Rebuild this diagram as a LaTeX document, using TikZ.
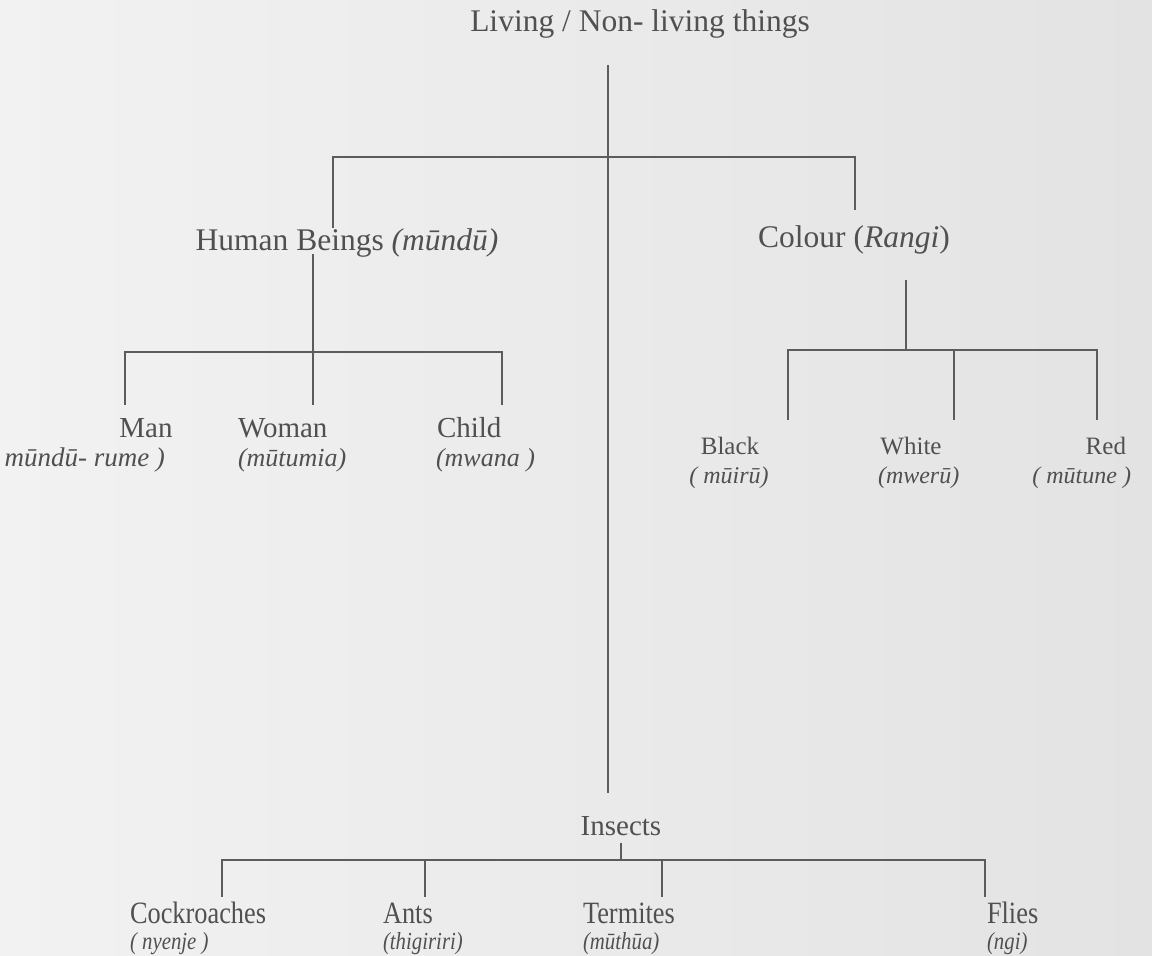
\documentclass[tikz,border=0pt]{standalone}
\usepackage{fontspec}
\setmainfont{Liberation Serif}
\newfontfamily\narrowserif[FakeStretch=0.85]{Liberation Serif}
\begin{document}
\begin{tikzpicture}[x=1pt,y=-1pt,
  every node/.style={inner sep=0pt, outer sep=0pt, text=ink, anchor=base},
  big/.style={font=\fontsize{31.5}{36}\selectfont},
  mid/.style={font=\fontsize{29}{34}\selectfont},
  small/.style={font=\fontsize{25}{30}\selectfont},
  native/.style={font=\fontsize{26}{30}\selectfont\itshape},
  nativesmall/.style={font=\fontsize{24}{28}\selectfont\itshape},
  insect/.style={font=\fontsize{31}{34}\narrowserif, anchor=base west},
  insectnative/.style={font=\fontsize{24.5}{28}\narrowserif\itshape, anchor=base west},
  branch/.style={draw=wire, line width=1.7pt}]
\definecolor{ink}{HTML}{505050}
\definecolor{wire}{HTML}{5C5C5C}
\definecolor{paperL}{HTML}{F2F2F2}
\definecolor{paperR}{HTML}{E3E3E3}
\useasboundingbox (0,0) rectangle (1152,956);
\shade[left color=paperL, right color=paperR] (0,0) rectangle (1152,956);

% headings
\node[big] (root) at (640,31) {Living / Non- living things};
\node[big] (human) at (347,250) {Human Beings \textit{(mūndū)}};
\node[big] (colour) at (854,247) {Colour (\textit{Rangi})};
\node[mid] (insects) at (621,835) {Insects};

% people
\node[mid] (man) at (146,437) {Man};
\node[native, font=\fontsize{27}{30}\selectfont\itshape, anchor=base east] (manN) at (165,466) {mūndū- rume )};
\node[mid, anchor=base west] (woman) at (238,437) {Woman};
\node[native, anchor=base west] (womanN) at (238,466) {(mūtumia)};
\node[mid, anchor=base west] (child) at (437,437) {Child};
\node[native, anchor=base west] (childN) at (436,466) {(mwana )};

% colours
\node[small] (black) at (730,454) {Black};
\node[nativesmall] (blackN) at (729,483) {( mūirū)};
\node[small] (white) at (911,454) {White};
\node[nativesmall, anchor=base west] (whiteN) at (878,483) {(mwerū)};
\node[small, anchor=base east] (red) at (1126,454) {Red};
\node[nativesmall, anchor=base east] (redN) at (1131,483) {( mūtune )};

% insects
\node[insect] (cock) at (130,923) {Cockroaches};
\node[insectnative] (cockN) at (130,949) {( nyenje )};
\node[insect] (ants) at (383,923) {Ants};
\node[insectnative] (antsN) at (383,949) {(thigiriri)};
\node[insect] (term) at (583,923) {Termites};
\node[insectnative] (termN) at (583,949) {(mūthūa)};
\node[insect] (flies) at (987,923) {Flies};
\node[insectnative] (fliesN) at (987,949) {(ngi)};

% junction points
\coordinate (trunkTop) at (608,65);
\coordinate (trunkBot) at (608,793);
\coordinate (barL) at (333,157);
\coordinate (barR) at (855,157);
\coordinate (humanUp) at (333,228);
\coordinate (colourUp) at (855,210);

\coordinate (hTop) at (313,254);
\coordinate (hBar) at (313,352);
\coordinate (hBarL) at (125,352);
\coordinate (hBarR) at (502,352);
\coordinate (manUp) at (125,405);
\coordinate (womanUp) at (313,405);
\coordinate (childUp) at (502,405);

\coordinate (cTop) at (906,280);
\coordinate (cBar) at (906,350);
\coordinate (cBarL) at (788,350);
\coordinate (cBarM) at (954,350);
\coordinate (cBarR) at (1097,350);
\coordinate (blackUp) at (788,420);
\coordinate (whiteUp) at (954,420);
\coordinate (redUp) at (1097,420);

\coordinate (iTop) at (621,843);
\coordinate (iBar) at (621,860);
\coordinate (iBarL) at (222,860);
\coordinate (iBarR) at (985,860);
\coordinate (cockUp) at (222,897);
\coordinate (antsBar) at (425,860);
\coordinate (antsUp) at (425,897);
\coordinate (termBar) at (662,860);
\coordinate (termUp) at (662,897);
\coordinate (fliesUp) at (985,897);

% main trunk and first split
\draw[branch] (trunkTop) -- (trunkBot);
\draw[branch] (humanUp) -- (barL) -- (barR) -- (colourUp);

% human beings
\draw[branch] (hTop) -- (hBar);
\draw[branch] (manUp) -- (hBarL) -- (hBarR) -- (childUp);
\draw[branch] (hBar) -- (womanUp);

% colours
\draw[branch] (cTop) -- (cBar);
\draw[branch] (blackUp) -- (cBarL) -- (cBarR) -- (redUp);
\draw[branch] (cBarM) -- (whiteUp);

% insects
\draw[branch] (iTop) -- (iBar);
\draw[branch] (cockUp) -- (iBarL) -- (iBarR) -- (fliesUp);
\draw[branch] (antsBar) -- (antsUp);
\draw[branch] (termBar) -- (termUp);
\end{tikzpicture}
\end{document}
